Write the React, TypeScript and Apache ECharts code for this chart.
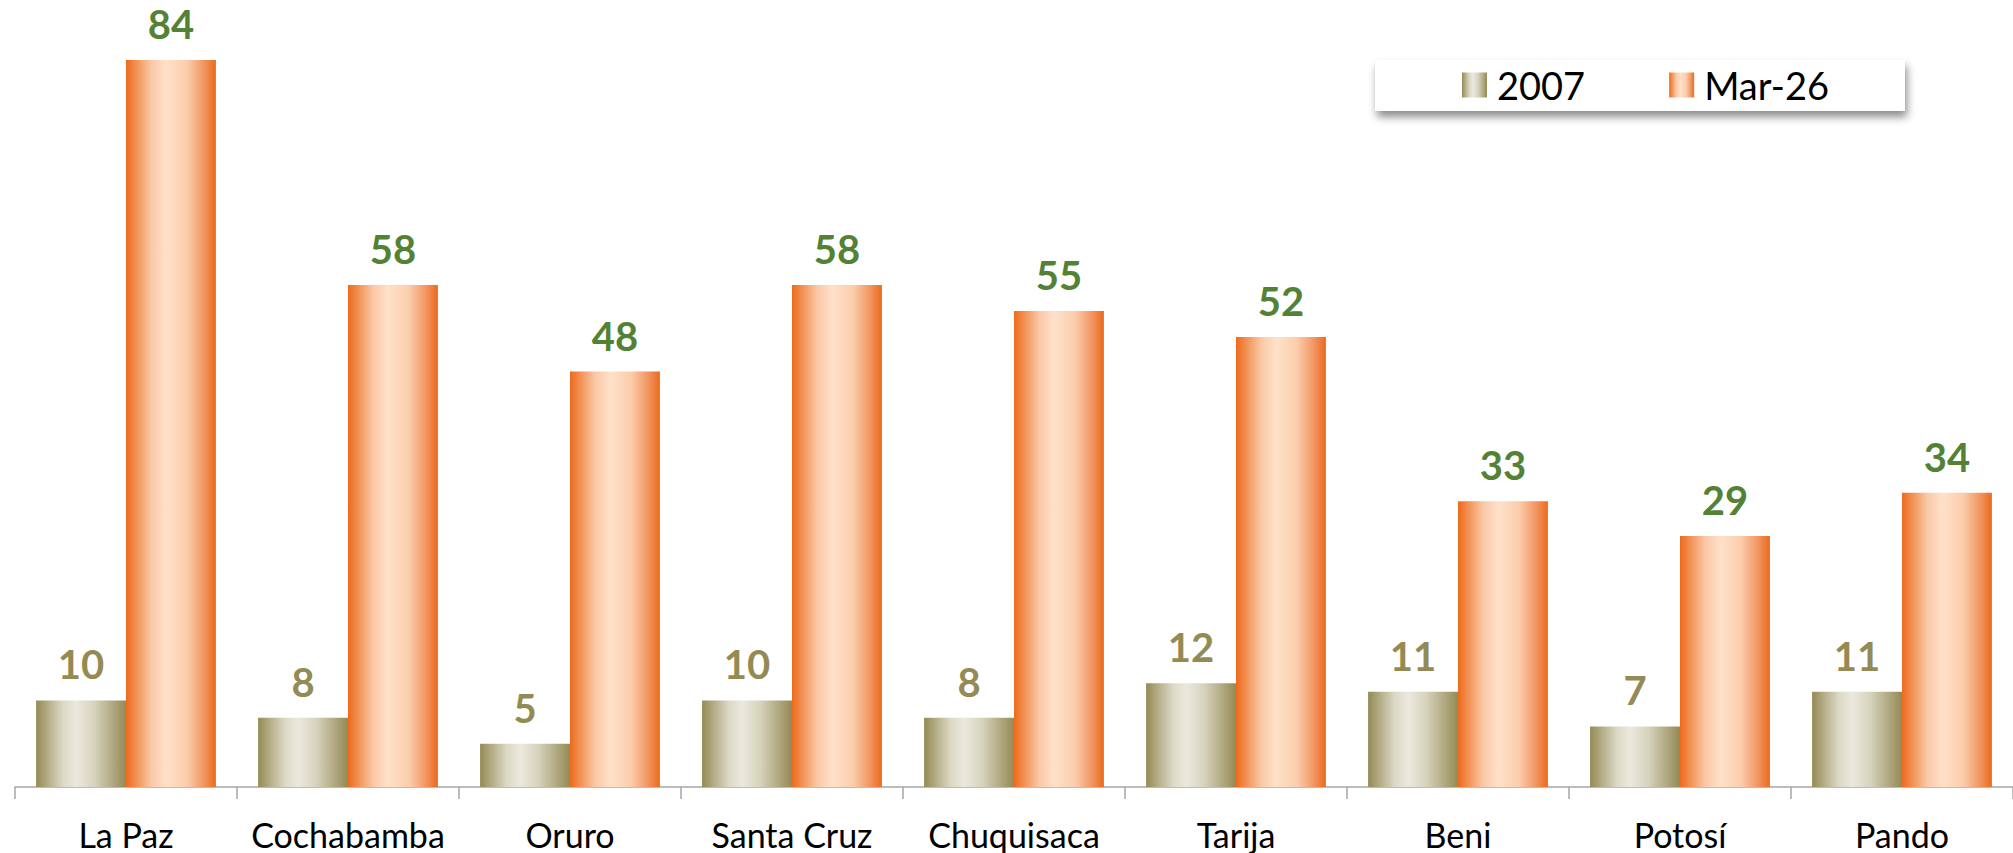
import React, { useEffect, useRef } from "react";
import * as echarts from "echarts";

const categories = ["La Paz", "Cochabamba", "Oruro", "Santa Cruz", "Chuquisaca", "Tarija", "Beni", "Potosí", "Pando"];
const seriesNames = ["2007", "Mar-26"];
const values2007 = [10, 8, 5, 10, 8, 12, 11, 7, 11];
const valuesMar26 = [84, 58, 48, 58, 55, 52, 33, 29, 34];

const FONT = "Lato, 'Open Sans', sans-serif";

const oliveGradient = {
  type: "linear",
  x: 0, y: 0, x2: 1, y2: 0,
  colorStops: [
    { offset: 0, color: "#948a54" },
    { offset: 0.3, color: "#dcd9c6" },
    { offset: 0.45, color: "#ebe9de" },
    { offset: 0.65, color: "#d6d2bc" },
    { offset: 1, color: "#948a54" },
  ],
};

const orangeGradient = {
  type: "linear",
  x: 0, y: 0, x2: 1, y2: 0,
  colorStops: [
    { offset: 0, color: "#ed6a1b" },
    { offset: 0.28, color: "#fac8a6" },
    { offset: 0.45, color: "#fee1ca" },
    { offset: 0.68, color: "#fbcdab" },
    { offset: 0.88, color: "#f1915c" },
    { offset: 1, color: "#ec6a1b" },
  ],
};

export default function App() {
  const ref = useRef<HTMLDivElement>(null);

  useEffect(() => {
    if (!ref.current) return;
    const chart = echarts.init(ref.current, null, { renderer: "svg" });
    chart.setOption({
      animation: false,
      backgroundColor: "#ffffff",
      graphic: [
        {
          type: "rect",
          z: 1,
          shape: { x: 1375, y: 60, width: 530, height: 51 },
          style: {
            fill: "#ffffff",
            shadowBlur: 8,
            shadowColor: "rgba(0,0,0,0.45)",
            shadowOffsetX: 2,
            shadowOffsetY: 6,
          },
        },
      ],
      legend: {
        z: 10,
        left: 1462,
        top: 66,
        padding: 0,
        itemWidth: 25,
        itemHeight: 25,
        itemGap: 84,
        icon: "rect",
        data: seriesNames,
        textStyle: { fontFamily: FONT, fontSize: 38, color: "#000000", padding: [0, 0, 0, 5] },
      },
      grid: { left: 15, right: 0, top: 8, bottom: 66 },
      xAxis: {
        type: "category",
        data: categories,
        axisLine: { show: true, lineStyle: { color: "#a6a6a6", width: 1.5 } },
        axisTick: { show: true, length: 12, lineStyle: { color: "#a6a6a6", width: 1.5 } },
        axisLabel: { fontFamily: FONT, fontSize: 34, lineHeight: 34, color: "#000000", margin: 30, interval: 0 },
      },
      yAxis: {
        type: "value",
        min: 0,
        max: 90,
        show: false,
        splitLine: { show: false },
      },
      series: [
        {
          name: seriesNames[0],
          type: "bar",
          data: values2007,
          barGap: "0%",
          barCategoryGap: "19%",
          itemStyle: { color: oliveGradient },
          label: {
            show: true,
            position: "top",
            distance: 16,
            fontFamily: FONT,
            fontSize: 40,
            fontWeight: "bold",
            color: "#948a54",
          },
        },
        {
          name: seriesNames[1],
          type: "bar",
          data: valuesMar26,
          barGap: "0%",
          barCategoryGap: "19%",
          itemStyle: { color: orangeGradient },
          label: {
            show: true,
            position: "top",
            distance: 16,
            fontFamily: FONT,
            fontSize: 40,
            fontWeight: "bold",
            color: "#548235",
          },
        },
      ],
    });
    return () => chart.dispose();
  }, []);

  return (
    <div
      ref={ref}
      style={{ position: "fixed", left: 0, top: 0, width: 2013, height: 853, background: "#fff" }}
    />
  );
}
